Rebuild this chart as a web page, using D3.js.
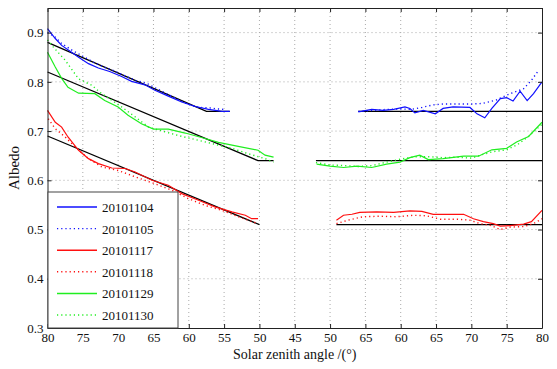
<!DOCTYPE html>
<html lang="en">
    <head>
        <meta charset="utf-8">
        <title>Albedo vs solar zenith angle</title>
        <script src="https://d3js.org/d3.v7.min.js"></script>
        <style>
            * {
                margin: 0;
                padding: 0;
            }
            body {
                background-color: white;
                width: 557px;
                height: 369px;
                overflow: hidden;
            }
        </style>
    </head>
    <body>
        <main></main>
        <script>

            // legend order / dates
            const dates = ["20101104", "20101105", "20101117", "20101118", "20101129", "20101130"];

            // x axis: ticks run 80 -> 45 (morning) then 50 -> 80 (afternoon); labels as printed
            const xTickLabels = ["80", "75", "70", "65", "60", "55", "50", "45", "50", "65", "60", "65", "70", "75", "80"];
            const yTicks = [0.3, 0.4, 0.5, 0.6, 0.7, 0.8, 0.9];

            // [solar zenith angle, albedo] - morning half
            const am20101104 = [[80, 0.908], [78.9, 0.888], [78, 0.874], [76.8, 0.862], [75.6, 0.850], [74.2, 0.837], [72.8, 0.828], [71.2, 0.821], [69.5, 0.811], [68.1, 0.801], [66.2, 0.794], [64.8, 0.783], [62.9, 0.771], [61, 0.759], [59.1, 0.750], [57.2, 0.744], [55.3, 0.740], [54.2, 0.740]];
            const am20101105 = [[80, 0.900], [79, 0.892], [78, 0.878], [76.5, 0.864], [75, 0.852], [73.5, 0.840], [72, 0.830], [70.5, 0.822], [69, 0.812], [67.5, 0.803], [66, 0.797], [64.5, 0.786], [63, 0.775], [61.5, 0.764], [60, 0.754], [58.5, 0.748], [57, 0.747], [56, 0.745], [55, 0.744]];
            const am20101117 = [[80, 0.742], [78.9, 0.718], [78, 0.708], [77.1, 0.688], [75.6, 0.661], [74.2, 0.644], [72.8, 0.634], [70.9, 0.625], [69, 0.624], [67.6, 0.617], [65.2, 0.600], [62.9, 0.590], [61, 0.573], [58.7, 0.560], [56.3, 0.546], [53.9, 0.536], [52, 0.529], [51.1, 0.522], [50.2, 0.522]];
            const am20101118 = [[79.9, 0.725], [78.9, 0.705], [77.5, 0.688], [76.1, 0.668], [74.2, 0.644], [72.3, 0.627], [70, 0.620], [67.6, 0.607], [64.8, 0.593], [62.4, 0.580], [60.1, 0.563], [57.7, 0.549], [55.3, 0.539], [53, 0.526], [50.2, 0.512]];
            const am20101129 = [[80, 0.860], [78.9, 0.830], [78, 0.807], [77.1, 0.789], [75.6, 0.777], [73.3, 0.776], [71.9, 0.762], [70, 0.749], [68.6, 0.732], [66.7, 0.715], [65, 0.704], [62.9, 0.704], [60.5, 0.696], [58.2, 0.687], [55.8, 0.677], [53, 0.669], [50.2, 0.661], [49.2, 0.651], [48, 0.647]];
            const am20101130 = [[80, 0.885], [79.2, 0.871], [77.5, 0.844], [75.6, 0.806], [73.7, 0.793], [72.6, 0.779], [69.5, 0.749], [67.6, 0.729], [65.7, 0.708], [61.5, 0.691], [57.7, 0.678], [53.9, 0.665], [51.6, 0.654], [49.2, 0.644], [48, 0.637]];

            // [solar zenith angle, albedo] - afternoon half
            const pm20101104 = [[54, 0.739], [55.9, 0.744], [57.5, 0.742], [59, 0.744], [60.6, 0.749], [61.3, 0.746], [62, 0.737], [63.2, 0.742], [64.9, 0.735], [66, 0.746], [67.4, 0.749], [69.8, 0.748], [70.8, 0.735], [71.9, 0.727], [72.9, 0.746], [74.1, 0.766], [75, 0.768], [75.9, 0.761], [76.9, 0.781], [77.9, 0.762], [78.8, 0.776], [80, 0.800]];
            const pm20101105 = [[54, 0.740], [56, 0.742], [58, 0.744], [60, 0.745], [61.5, 0.744], [63, 0.748], [64.5, 0.753], [66, 0.755], [68, 0.755], [70, 0.755], [71.5, 0.756], [73.5, 0.763], [75.5, 0.776], [77.4, 0.786], [78.5, 0.803], [79.5, 0.823]];
            const pm20101117 = [[50.9, 0.519], [51.9, 0.529], [53.1, 0.531], [54.2, 0.535], [56.6, 0.536], [59, 0.535], [61.3, 0.538], [63, 0.537], [64.6, 0.531], [66.5, 0.531], [68.9, 0.531], [70.3, 0.522], [71.7, 0.516], [73.1, 0.512], [74.1, 0.507], [75.5, 0.508], [77.4, 0.511], [78.5, 0.516], [80, 0.539]];
            const pm20101118 = [[50.9, 0.512], [52.8, 0.520], [54.7, 0.526], [57.1, 0.527], [59.4, 0.526], [61.8, 0.529], [63.6, 0.528], [65.6, 0.521], [68, 0.521], [69.8, 0.519], [71.2, 0.512], [72.6, 0.509], [74.1, 0.500], [75.5, 0.505], [77.4, 0.506], [78.8, 0.512], [80, 0.522]];
            const pm20101129 = [[48.1, 0.633], [50, 0.629], [51.9, 0.626], [53.8, 0.629], [55.9, 0.626], [58, 0.633], [59.9, 0.637], [61.3, 0.646], [62.7, 0.651], [63.9, 0.642], [66, 0.644], [68.9, 0.649], [71, 0.649], [72.9, 0.662], [75, 0.665], [76.4, 0.678], [78.1, 0.689], [80, 0.718]];
            const pm20101130 = [[48, 0.636], [50, 0.631], [52, 0.630], [54, 0.628], [56, 0.630], [58, 0.637], [60, 0.643], [62, 0.648], [64, 0.648], [66, 0.646], [68, 0.647], [70, 0.645], [71.5, 0.652], [73, 0.658], [75, 0.662], [76.5, 0.672], [78, 0.688], [80, 0.714]];

            // black fitted lines
            const fitAm = [
                [[80, 0.88], [57.5, 0.74], [54.2, 0.74]],
                [[80, 0.82], [50.2, 0.64], [48, 0.64]],
                [[80, 0.69], [50, 0.51]]
            ];
            const fitPm = [
                [[54, 0.74], [80, 0.74]],
                [[48, 0.64], [80, 0.64]],
                [[50.9, 0.51], [80, 0.51]]
            ];

            const colors = ["#1010ff", "#1010ff", "#ff1010", "#ff1010", "#20ee20", "#20ee20"];
            const dashed = [false, true, false, true, false, true];

            const serif = "'Liberation Serif', 'DejaVu Serif', 'Times New Roman', serif";

            const w = 557;
            const h = 369;
            const mLeft = 47.5, mRight = 542, mTop = 8, mBottom = 328;

            // axis position: 0 at 80 (morning) ... 35 at 45 ... 70 at 80 (afternoon)
            const amPos = a => 80 - a;
            const pmPos = a => a - 10;

            const xScale = d3.scaleLinear().domain([0, 70]).range([mLeft, mRight]);
            const yScale = d3.scaleLinear().domain([0.3, 0.95]).range([mBottom, mTop]);

            const svg = d3.select("main")
                .append("svg")
                .attr("width", w)
                .attr("height", h)
                .style("font-family", serif);

            const xTickVals = xTickLabels.map((d, i) => i * 5);

            // dotted grid
            svg.append("g")
                .selectAll("line")
                .data(xTickVals.slice(1, -1))
                .enter()
                .append("line")
                .attr("x1", d => xScale(d))
                .attr("x2", d => xScale(d))
                .attr("y1", mTop)
                .attr("y2", mBottom)
                .attr("stroke", "#aaa")
                .attr("stroke-dasharray", "1,3");

            svg.append("g")
                .selectAll("line")
                .data(yTicks.slice(1))
                .enter()
                .append("line")
                .attr("x1", mLeft)
                .attr("x2", mRight)
                .attr("y1", d => yScale(d))
                .attr("y2", d => yScale(d))
                .attr("stroke", "#aaa")
                .attr("stroke-dasharray", "1,3");

            const line = d3.line()
                .x(d => xScale(d[0]))
                .y(d => yScale(d[1]));

            const amSeries = [am20101104, am20101105, am20101117, am20101118, am20101129, am20101130];
            const pmSeries = [pm20101104, pm20101105, pm20101117, pm20101118, pm20101129, pm20101130];

            // fitted lines first, data on top
            fitAm.forEach(f => {
                svg.append("path")
                    .attr("d", line(f.map(p => [amPos(p[0]), p[1]])))
                    .attr("fill", "none")
                    .attr("stroke", "black")
                    .attr("stroke-width", 1.3);
            });
            fitPm.forEach(f => {
                svg.append("path")
                    .attr("d", line(f.map(p => [pmPos(p[0]), p[1]])))
                    .attr("fill", "none")
                    .attr("stroke", "black")
                    .attr("stroke-width", 1.3);
            });

            dates.forEach((d, i) => {
                [amSeries[i].map(p => [amPos(p[0]), p[1]]), pmSeries[i].map(p => [pmPos(p[0]), p[1]])].forEach(pts => {
                    svg.append("path")
                        .attr("d", line(pts))
                        .attr("fill", "none")
                        .attr("stroke", colors[i])
                        .attr("stroke-width", dashed[i] ? 1.4 : 1.2)
                        .attr("stroke-dasharray", dashed[i] ? "1.2,3" : null);
                });
            });

            // axes, ticks pointing inwards
            svg.append("g")
                .attr("transform", `translate(0, ${mBottom})`)
                .call(d3.axisBottom(xScale).tickValues(xTickVals).tickFormat((d, i) => xTickLabels[i]).tickSizeInner(-4).tickSizeOuter(0).tickPadding(5));

            svg.append("g")
                .attr("transform", `translate(0, ${mTop})`)
                .call(d3.axisTop(xScale).tickValues(xTickVals).tickFormat("").tickSizeInner(-4).tickSizeOuter(0));

            svg.append("g")
                .attr("transform", `translate(${mLeft}, 0)`)
                .call(d3.axisLeft(yScale).tickValues(yTicks).tickFormat(d3.format(".1f")).tickSizeInner(-4).tickSizeOuter(0).tickPadding(4));

            svg.append("g")
                .attr("transform", `translate(${mRight}, 0)`)
                .call(d3.axisRight(yScale).tickValues(yTicks).tickFormat("").tickSizeInner(-4).tickSizeOuter(0));

            svg.selectAll("g").attr("font-family", null);
            svg.selectAll(".domain").attr("stroke", "#222");
            svg.selectAll(".tick line").attr("stroke", "#222");
            svg.selectAll(".tick text")
                .style("font-family", serif)
                .style("font-size", "13px")
                .attr("fill", "#111");

            // legend
            const lg = svg.append("g");
            lg.append("rect")
                .attr("x", 48)
                .attr("y", 192)
                .attr("width", 130)
                .attr("height", 136)
                .attr("fill", "white")
                .attr("stroke", "#444")
                .attr("stroke-width", 1);

            dates.forEach((d, i) => {
                const y = 207 + i * 21.6;
                lg.append("line")
                    .attr("x1", 57)
                    .attr("x2", 97)
                    .attr("y1", y)
                    .attr("y2", y)
                    .attr("stroke", colors[i])
                    .attr("stroke-width", dashed[i] ? 1.4 : 1.5)
                    .attr("stroke-dasharray", dashed[i] ? "1.2,3" : null);
                lg.append("text")
                    .attr("x", 102)
                    .attr("y", y + 5)
                    .style("font-family", serif)
                    .style("font-size", "13px")
                    .attr("fill", "#111")
                    .text(d);
            });

            // axis titles
            svg.append("text")
                .attr("x", (mLeft + mRight) / 2)
                .attr("y", 359)
                .attr("text-anchor", "middle")
                .style("font-family", serif)
                .style("font-size", "14px")
                .attr("fill", "#111")
                .text("Solar zenith angle /(°)");

            svg.append("text")
                .attr("transform", `translate(19, ${(mTop + mBottom) / 2}) rotate(-90)`)
                .attr("text-anchor", "middle")
                .style("font-family", serif)
                .style("font-size", "15px")
                .attr("fill", "#111")
                .text("Albedo");

        </script>
    </body>
</html>
